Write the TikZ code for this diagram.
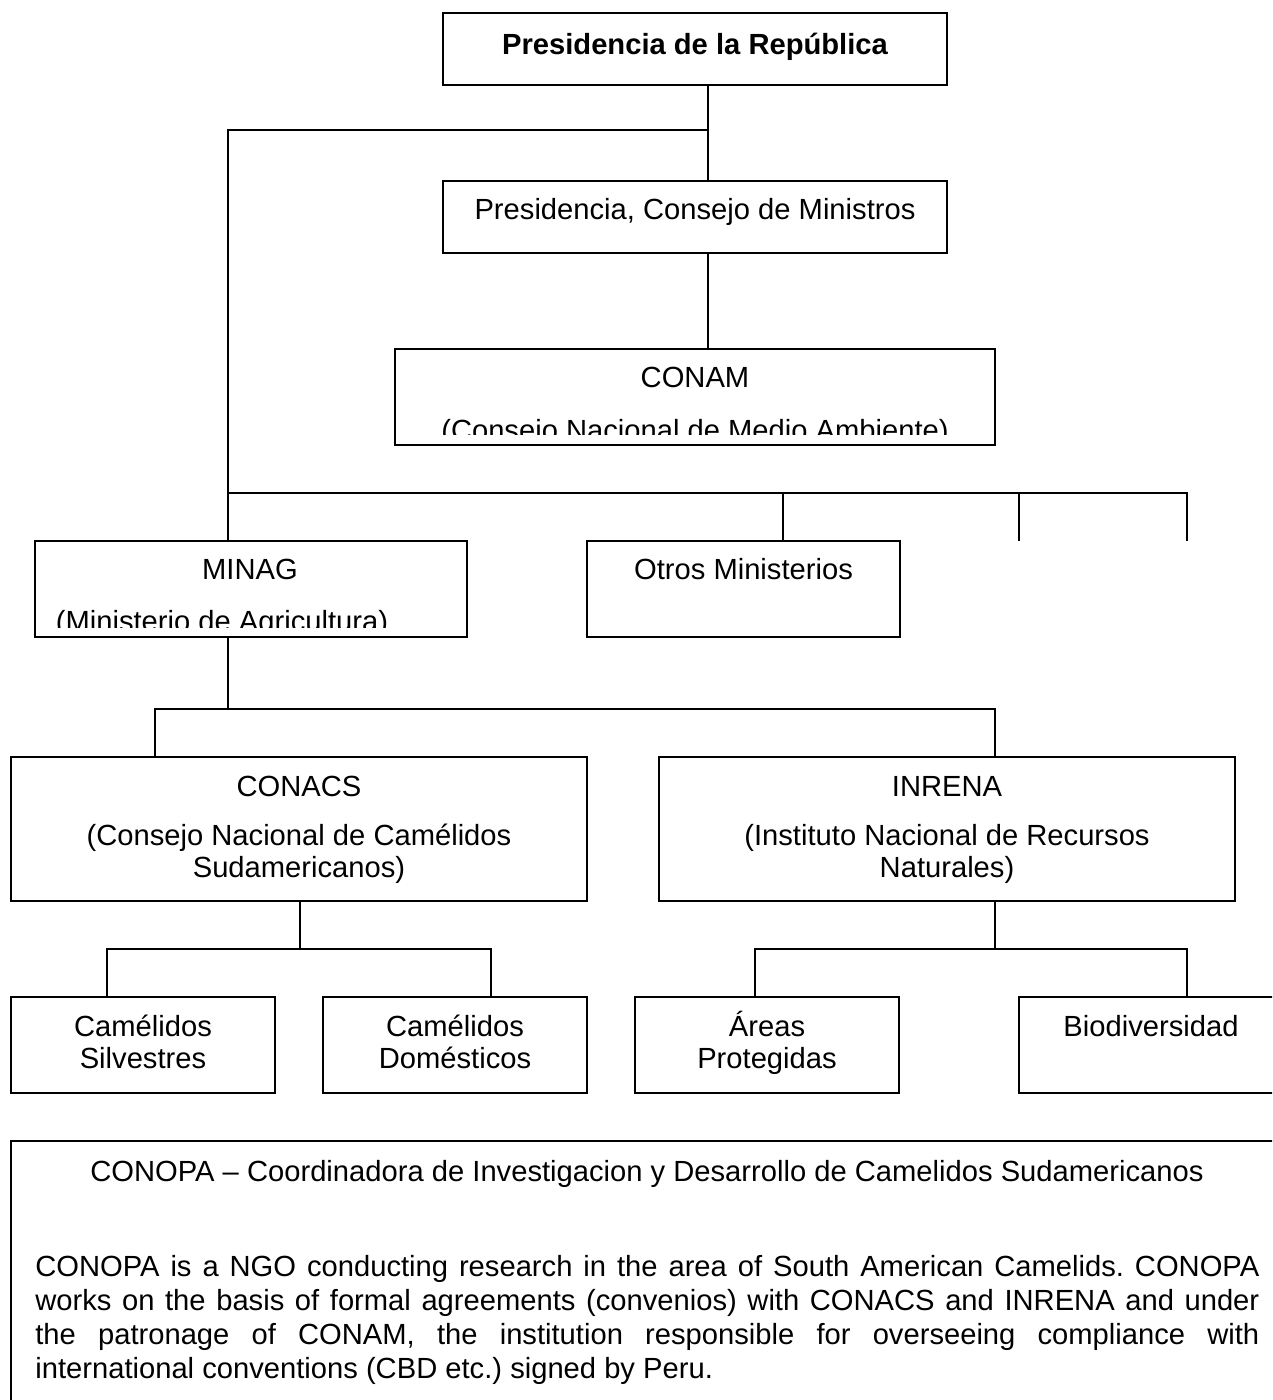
\documentclass[tikz,border=0pt]{standalone}
\usepackage{fontspec}
\setmainfont{Liberation Sans}
\usepackage{tikz}
\frenchspacing

\tikzset{
  box/.style 2 args={draw, line width=1.1pt, minimum width=#1*0.02cm, minimum height=#2*0.02cm, inner sep=0pt},
  lbl/.style={font=\fontsize{16.6}{19.5}\selectfont, inner sep=0pt, anchor=base},
  link/.style={line width=1.1pt}
}

\begin{document}
\begin{tikzpicture}[x=0.02cm, y=-0.02cm]
\useasboundingbox (0,0) rectangle (1272,1400);
\clip (0,0) rectangle (1272,1400);
% upper boxes
\node[box={504}{72}] (pres) at (695,49) {};
\node[lbl] (presT) at (695,54) {\bfseries Presidencia de la República};
\node[box={504}{72}] (pcm) at (695,217) {};
\node[lbl] (pcmT) at (695,219) {Presidencia, Consejo de Ministros};
\node[box={600}{96}] (conam) at (695,397) {};
\node[lbl] (conamT) at (695,387) {CONAM};
\begin{scope}
\clip (395,349) rectangle (995,434);
\node[lbl] (conamS) at (695,440) {(Consejo Nacional de Medio Ambiente)};
\end{scope}
% ministries
\node[box={432}{96}] (minag) at (251,589) {};
\node[lbl] (minagT) at (250,579) {MINAG};
\begin{scope}
\clip (35,541) rectangle (467,627);
\node[lbl] (minagS) at (222,631) {(Ministerio de Agricultura)};
\end{scope}
\node[box={313}{96}] (otros) at (743.5,589) {};
\node[lbl] (otrosT) at (743.5,579) {Otros Ministerios};
% institutes
\node[box={576}{144}] (conacs) at (299,829) {};
\node[lbl] (conacsT) at (299,796) {CONACS};
\node[lbl] (conacsA) at (299,845) {(Consejo Nacional de Camélidos};
\node[lbl] (conacsB) at (299,877) {Sudamericanos)};
\node[box={576}{144}] (inrena) at (947,829) {};
\node[lbl] (inrenaT) at (947,796) {INRENA};
\node[lbl] (inrenaA) at (947,845) {(Instituto Nacional de Recursos};
\node[lbl] (inrenaB) at (947,877) {Naturales)};
% lowest row
\node[box={264}{96}] (silv) at (143,1045) {};
\node[lbl] (silvA) at (143,1036) {Camélidos};
\node[lbl] (silvB) at (143,1068) {Silvestres};
\node[box={264}{96}] (dom) at (455,1045) {};
\node[lbl] (domA) at (455,1036) {Camélidos};
\node[lbl] (domB) at (455,1068) {Domésticos};
\node[box={264}{96}] (areas) at (767,1045) {};
\node[lbl] (areasA) at (767,1036) {Áreas};
\node[lbl] (areasB) at (767,1068) {Protegidas};
\node[box={264}{96}] (bio) at (1151,1045) {};
\node[lbl] (bioT) at (1151,1036) {Biodiversidad};
% note
\node[box={1290}{280}] (note) at (656,1281) {};
\node[lbl] (noteT) at (647,1181) {CONOPA – Coordinadora de Investigacion y Desarrollo de Camelidos Sudamericanos};
\node[lbl, anchor=base west, text width=1224*0.02cm, align=justify] (noteP) at (35,1276)
  {CONOPA is a NGO conducting research in the area of South American Camelids. CONOPA\linebreak
   works on the basis of formal agreements (convenios) with CONACS and INRENA and under\linebreak
   the patronage of CONAM, the institution responsible for overseeing compliance with\linebreak
   international conventions (CBD etc.) signed by Peru.};
% connectors
\coordinate (c1) at (708,130);
\coordinate (c2) at (228,130);
\coordinate (c3) at (228,493);
\coordinate (c4) at (783,493);
\coordinate (c5) at (1019,493);
\coordinate (c5b) at (1019,541);
\coordinate (c6) at (1187,493);
\coordinate (c6b) at (1187,541);
\coordinate (m1) at (228,709);
\coordinate (m2) at (155,709);
\coordinate (m3) at (995,709);
\coordinate (k1) at (300,949);
\coordinate (k2) at (107,949);
\coordinate (k3) at (491,949);
\coordinate (r1) at (995,949);
\coordinate (r2) at (755,949);
\coordinate (r3) at (1187,949);
\draw[link] (pres.south -| c1) -- (pcm.north -| c1);
\draw[link] (pcm.south -| c1) -- (conam.north -| c1);
\draw[link] (c1) -- (c2) -- (minag.north -| c2);
\draw[link] (c3) -- (c6) -- (c6b);
\draw[link] (c4) -- (otros.north -| c4);
\draw[link] (c5) -- (c5b);
\draw[link] (minag.south -| m1) -- (m1);
\draw[link] (conacs.north -| m2) -- (m2) -- (m3) -- (inrena.north -| m3);
\draw[link] (conacs.south -| k1) -- (k1);
\draw[link] (silv.north -| k2) -- (k2) -- (k3) -- (dom.north -| k3);
\draw[link] (inrena.south -| r1) -- (r1);
\draw[link] (areas.north -| r2) -- (r2) -- (r3) -- (bio.north -| r3);
\end{tikzpicture}
\end{document}
